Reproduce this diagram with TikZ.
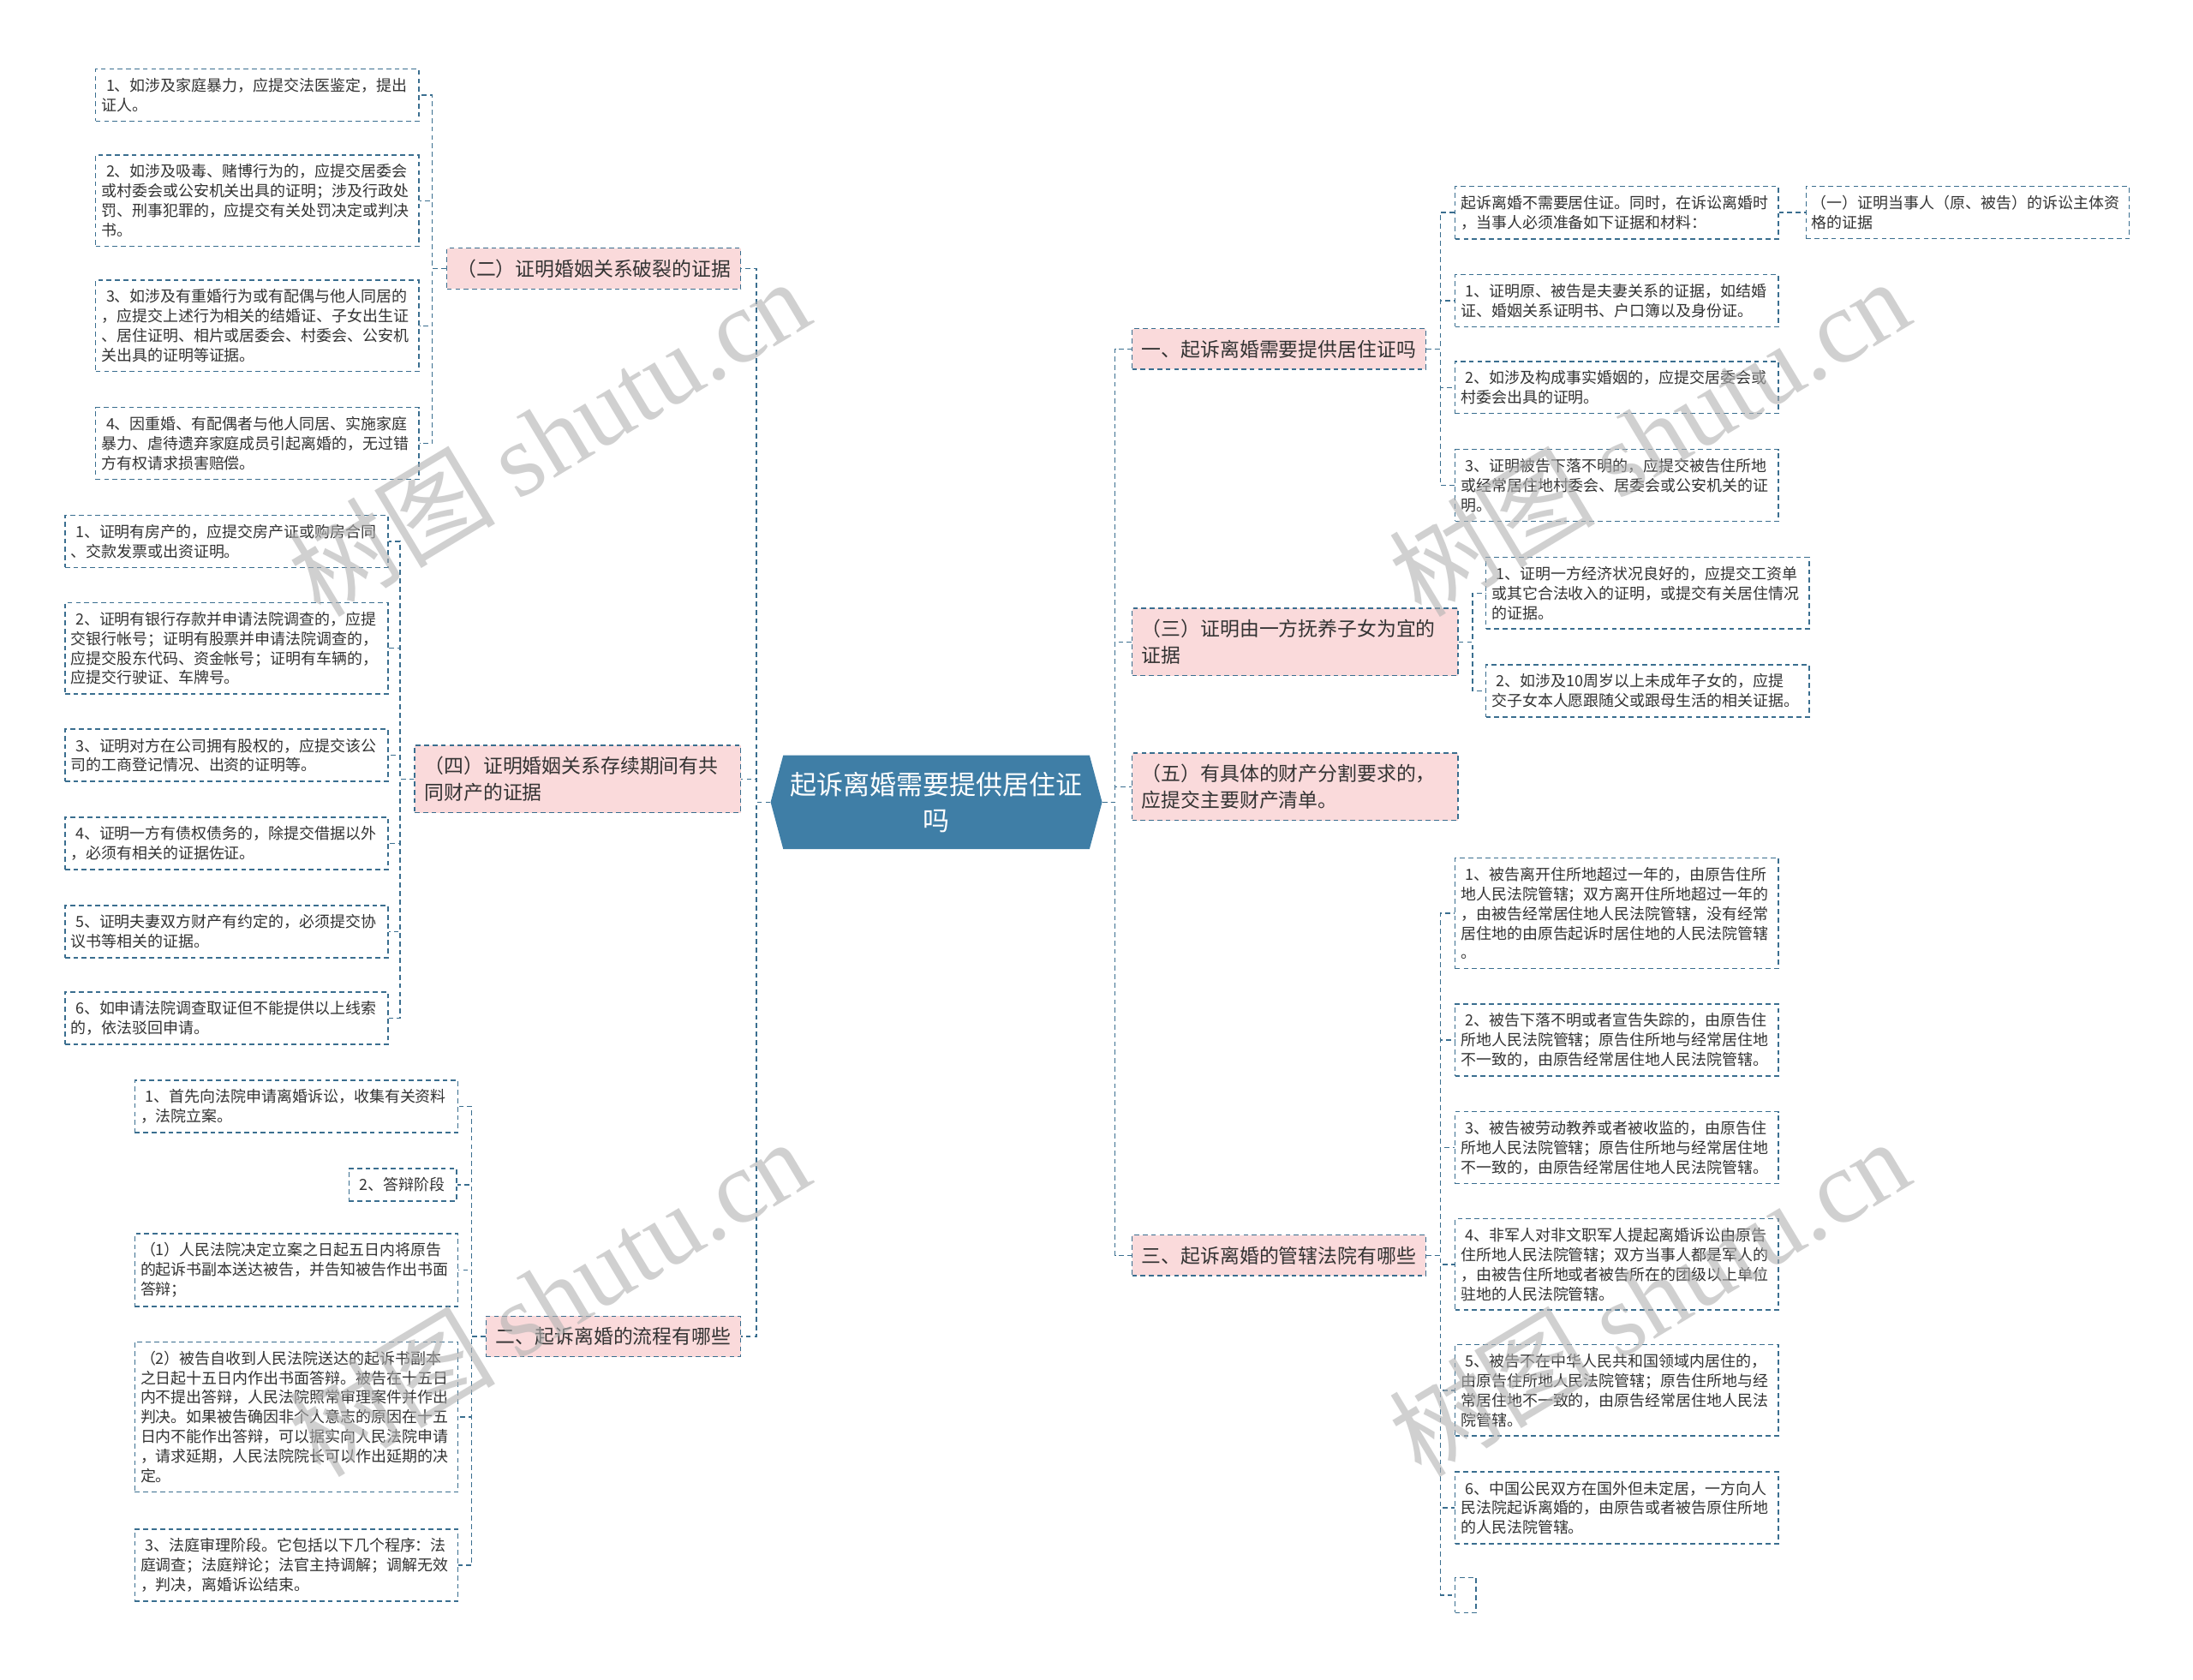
\documentclass[tikz,border=0pt]{standalone}
\usepackage{fontspec}
\usepackage{xcolor}
\setmainfont{Noto Sans CJK SC}
\newfontfamily\wmlatin{Liberation Serif}
\usepackage{tikz}
\usetikzlibrary{positioning}

\definecolor{linec}{HTML}{3A6E8F}
\definecolor{pinkc}{HTML}{FADADB}
\definecolor{hubc}{HTML}{3F7EA6}
\definecolor{textc}{HTML}{333333}
\newcommand{\numgap}{\hspace*{3.5pt}}

\begin{document}
\begin{tikzpicture}[x=1pt, y=-1pt,
leaf/.style={draw=linec, line width=0.9pt, dash pattern=on 3.5pt off 2.5pt, fill=white, text=textc, font=\fontsize{11}{14}\selectfont, align=left, text width=223pt, inner xsep=4pt, inner ysep=6.5pt, anchor=west},
topic/.style={draw=linec, line width=0.9pt, dash pattern=on 3.5pt off 2.5pt, fill=pinkc, text=textc, font=\fontsize{14}{19}\selectfont, align=left, inner xsep=7pt, inner ysep=8pt},
hub/.style={text=white, font=\fontsize{19}{26}\selectfont, align=center, minimum width=237pt, minimum height=67pt,
  path picture={\fill[hubc] (path picture bounding box.west) -- ([xshift=9pt]path picture bounding box.north west) -- ([xshift=-9pt]path picture bounding box.north east) -- (path picture bounding box.east) -- ([xshift=-9pt]path picture bounding box.south east) -- ([xshift=9pt]path picture bounding box.south west) -- cycle;}},
link/.style={draw=linec, line width=0.9pt, dash pattern=on 3.5pt off 2.5pt},
wmark/.style={rotate=31, text=black!30, text opacity=0.6, font=\fontsize{74}{74}\selectfont}
]
\path[use as bounding box, fill=white] (0,0) rectangle (1568,1201);

% root
\node[hub] (root) at (669.5,573.5) {起诉离婚需要提供居住证\\吗};

% left branches
\node[topic, anchor=east] (zheng2) at (530,192) {（二）证明婚姻关系破裂的证据};
\node[topic, anchor=east, text width=219pt] (zheng4) at (530,557) {（四）证明婚姻关系存续期间有共\\同财产的证据};
\node[topic, anchor=east] (liucheng) at (530,955.5) {二、起诉离婚的流程有哪些};

% right branches
\node[topic, anchor=west] (juzhu) at (809,249.5) {一、起诉离婚需要提供居住证吗};
\node[topic, anchor=west, text width=219pt] (zheng3) at (809,459) {（三）证明由一方抚养子女为宜的\\证据};
\node[topic, anchor=west, text width=219pt] (zheng5) at (809,562.5) {（五）有具体的财产分割要求的，\\应提交主要财产清单。};
\node[topic, anchor=west] (fayuan) at (809,897.5) {三、起诉离婚的管辖法院有哪些};

% (二)
\node[leaf] (po1) at (68,68) {\numgap 1、如涉及家庭暴力，应提交法医鉴定，提出\\证人。};
\node[leaf] (po2) at (68,143.5) {\numgap 2、如涉及吸毒、赌博行为的，应提交居委会\\或村委会或公安机关出具的证明；涉及行政处\\罚、刑事犯罪的，应提交有关处罚决定或判决\\书。};
\node[leaf] (po3) at (68,233) {\numgap 3、如涉及有重婚行为或有配偶与他人同居的\\，应提交上述行为相关的结婚证、子女出生证\\、居住证明、相片或居委会、村委会、公安机\\关出具的证明等证据。};
\node[leaf] (po4) at (68,317) {\numgap 4、因重婚、有配偶者与他人同居、实施家庭\\暴力、虐待遗弃家庭成员引起离婚的，无过错\\方有权请求损害赔偿。};

% (四)
\node[leaf] (cai1) at (46,387) {\numgap 1、证明有房产的，应提交房产证或购房合同\\、交款发票或出资证明。};
\node[leaf] (cai2) at (46,463.5) {\numgap 2、证明有银行存款并申请法院调查的，应提\\交银行帐号；证明有股票并申请法院调查的，\\应提交股东代码、资金帐号；证明有车辆的，\\应提交行驶证、车牌号。};
\node[leaf] (cai3) at (46,540) {\numgap 3、证明对方在公司拥有股权的，应提交该公\\司的工商登记情况、出资的证明等。};
\node[leaf] (cai4) at (46,603) {\numgap 4、证明一方有债权债务的，除提交借据以外\\，必须有相关的证据佐证。};
\node[leaf] (cai5) at (46,666) {\numgap 5、证明夫妻双方财产有约定的，必须提交协\\议书等相关的证据。};
\node[leaf] (cai6) at (46,728) {\numgap 6、如申请法院调查取证但不能提供以上线索\\的，依法驳回申请。};

% 流程
\node[leaf] (liu1) at (96,791) {\numgap 1、首先向法院申请离婚诉讼，收集有关资料\\，法院立案。};
\node[leaf, anchor=east, text width=69pt] (liu2) at (327,847) {\numgap 2、答辩阶段};
\node[leaf] (liu3) at (96,908) {（1）人民法院决定立案之日起五日内将原告\\的起诉书副本送达被告，并告知被告作出书面\\答辩；};
\node[leaf] (liu4) at (96,1013) {（2）被告自收到人民法院送达的起诉书副本\\之日起十五日内作出书面答辩。被告在十五日\\内不提出答辩，人民法院照常审理案件并作出\\判决。如果被告确因非个人意志的原因在十五\\日内不能作出答辩，可以据实向人民法院申请\\，请求延期，人民法院院长可以作出延期的决\\定。};
\node[leaf] (liu5) at (96,1119) {\numgap 3、法庭审理阶段。它包括以下几个程序：法\\庭调查；法庭辩论；法官主持调解；调解无效\\，判决，离婚诉讼结束。};

% 一、居住证
\node[leaf] (ju0) at (1040,152) {起诉离婚不需要居住证。同时，在诉讼离婚时\\，当事人必须准备如下证据和材料：};
\node[leaf, right=19pt of ju0] (zhuti) {（一）证明当事人（原、被告）的诉讼主体资\\格的证据};
\node[leaf] (ju1) at (1040,215) {\numgap 1、证明原、被告是夫妻关系的证据，如结婚\\证、婚姻关系证明书、户口簿以及身份证。};
\node[leaf] (ju2) at (1040,277) {\numgap 2、如涉及构成事实婚姻的，应提交居委会或\\村委会出具的证明。};
\node[leaf] (ju3) at (1040,347) {\numgap 3、证明被告下落不明的，应提交被告住所地\\或经常居住地村委会、居委会或公安机关的证\\明。};

% (三)
\node[leaf] (fu1) at (1062,424) {\numgap 1、证明一方经济状况良好的，应提交工资单\\或其它合法收入的证明，或提交有关居住情况\\的证据。};
\node[leaf] (fu2) at (1062,494) {\numgap 2、如涉及10周岁以上未成年子女的，应提\\交子女本人愿跟随父或跟母生活的相关证据。};

% 管辖法院
\node[leaf] (fa1) at (1040,653) {\numgap 1、被告离开住所地超过一年的，由原告住所\\地人民法院管辖；双方离开住所地超过一年的\\，由被告经常居住地人民法院管辖，没有经常\\居住地的由原告起诉时居住地的人民法院管辖\\。};
\node[leaf] (fa2) at (1040,743.5) {\numgap 2、被告下落不明或者宣告失踪的，由原告住\\所地人民法院管辖；原告住所地与经常居住地\\不一致的，由原告经常居住地人民法院管辖。};
\node[leaf] (fa3) at (1040,820.5) {\numgap 3、被告被劳动教养或者被收监的，由原告住\\所地人民法院管辖；原告住所地与经常居住地\\不一致的，由原告经常居住地人民法院管辖。};
\node[leaf] (fa4) at (1040,904) {\numgap 4、非军人对非文职军人提起离婚诉讼由原告\\住所地人民法院管辖；双方当事人都是军人的\\，由被告住所地或者被告所在的团级以上单位\\驻地的人民法院管辖。};
\node[leaf] (fa5) at (1040,994) {\numgap 5、被告不在中华人民共和国领域内居住的，\\由原告住所地人民法院管辖；原告住所地与经\\常居住地不一致的，由原告经常居住地人民法\\院管辖。};
\node[leaf] (fa6) at (1040,1078) {\numgap 6、中国公民双方在国外但未定居，一方向人\\民法院起诉离婚的，由原告或者被告原住所地\\的人民法院管辖。};
\node[leaf, text width=7pt, minimum height=25pt] (fa7) at (1040,1140.5) {};

% connectors
\foreach \n in {zheng2,zheng4,liucheng}
  \draw[link] (root.west) -- ++(-10,0) |- (\n.east);
\foreach \n in {juzhu,zheng3,zheng5,fayuan}
  \draw[link] (root.east) -- ++(9,0) |- (\n.west);
\foreach \n in {po1,po2,po3,po4}
  \draw[link] (zheng2.west) -- ++(-10,0) |- (\n.east);
\foreach \n in {cai1,cai2,cai3,cai4,cai5,cai6}
  \draw[link] (zheng4.west) -- ++(-10,0) |- (\n.east);
\foreach \n in {liu1,liu2,liu3,liu4,liu5}
  \draw[link] (liucheng.west) -- ++(-10,0) |- (\n.east);
\foreach \n in {ju0,ju1,ju2,ju3}
  \draw[link] (juzhu.east) -- ++(10,0) |- (\n.west);
\draw[link] (ju0.east) -- (zhuti.west);
\foreach \n in {fu1,fu2}
  \draw[link] (zheng3.east) -- ++(10,0) |- (\n.west);
\foreach \n in {fa1,fa2,fa3,fa4,fa5,fa6,fa7}
  \draw[link] (fayuan.east) -- ++(10,0) |- (\n.west);

% watermarks
\node[wmark] (wm1) at (392,312) {树图 {\wmlatin shutu.cn}};
\node[wmark] (wm2) at (1179,312) {树图 {\wmlatin shutu.cn}};
\node[wmark] (wm3) at (392,927) {树图 {\wmlatin shutu.cn}};
\node[wmark] (wm4) at (1179,927) {树图 {\wmlatin shutu.cn}};
\end{tikzpicture}
\end{document}
